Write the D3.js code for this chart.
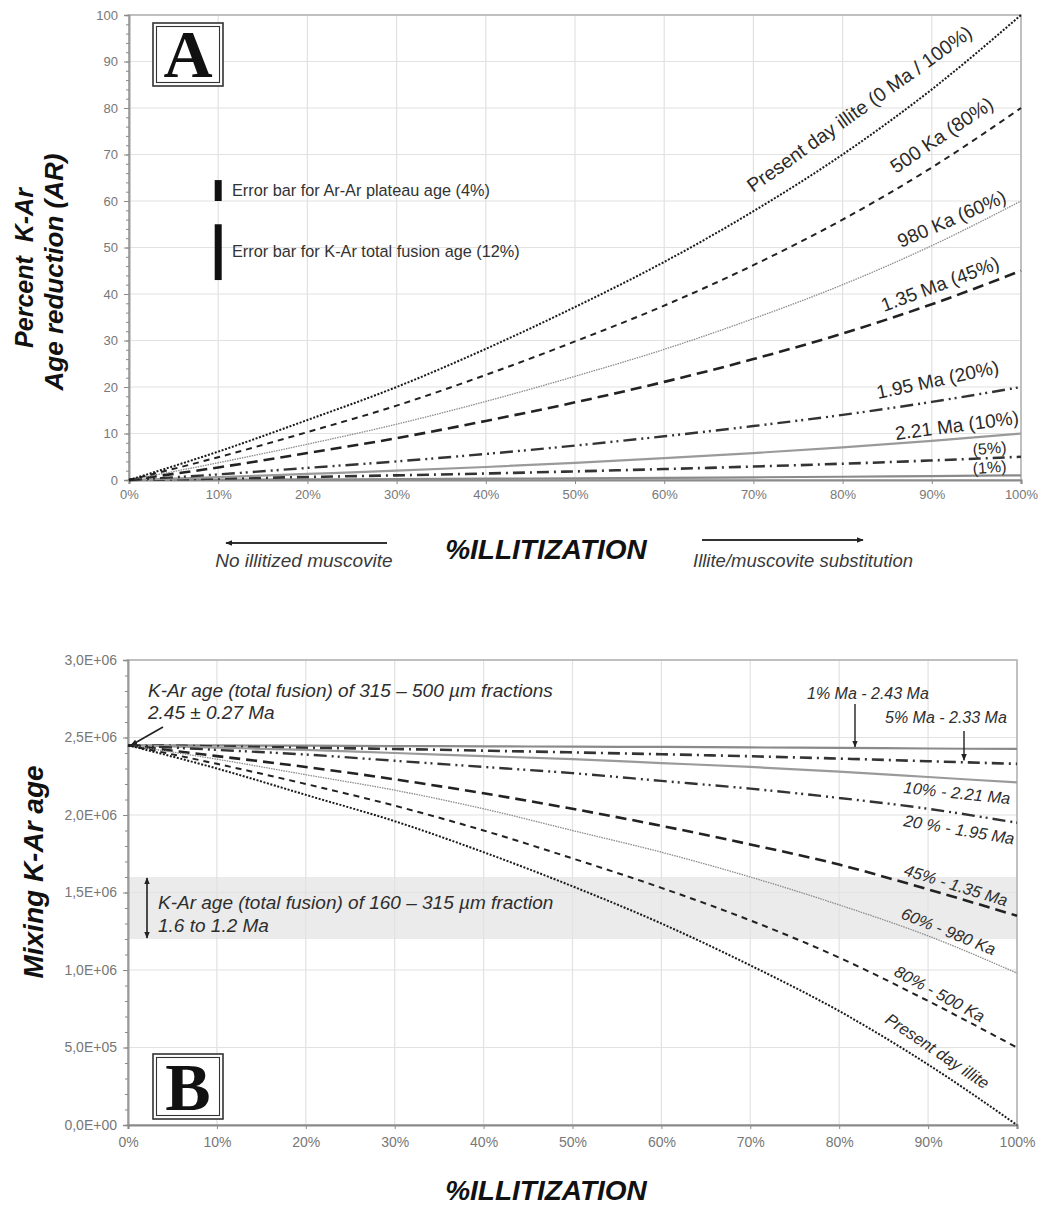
<!DOCTYPE html>
<html><head><meta charset="utf-8">
<script src="https://cdn.jsdelivr.net/npm/d3@7/dist/d3.min.js"></script>
<style>body{margin:0;background:#fff} svg{display:block;font-family:"Liberation Sans",Arial,sans-serif}</style>
</head><body>
<svg id="c" width="1043" height="1209"></svg>
<script>
// ---------------- DATA ----------------
const illitization = [0, 10, 20, 30, 40, 50, 60, 70, 80, 90, 100];
const xTickLabels = ["0%", "10%", "20%", "30%", "40%", "50%", "60%", "70%", "80%", "90%", "100%"];
const arTicks = [0, 10, 20, 30, 40, 50, 60, 70, 80, 90, 100];
const ageTicks = [0, 0.5, 1.0, 1.5, 2.0, 2.5, 3.0]; // Ma
const ageTickLabels = ["0,0E+00", "5,0E+05", "1,0E+06", "1,5E+06", "2,0E+06", "2,5E+06", "3,0E+06"];

// Panel A : percent K-Ar age reduction (AR)
const arPresentDay = [0, 6.1, 12.9, 20.0, 28.2, 37.2, 46.9, 57.8, 70.0, 84.0, 100];
const arKa500      = [0, 4.9, 10.3, 16.0, 22.6, 29.8, 37.5, 46.2, 56.0, 67.2, 80];
const arKa980      = [0, 3.7, 7.7, 12.0, 16.9, 22.3, 28.1, 34.7, 42.0, 50.4, 60];
const arMa135      = [0, 2.7, 5.8, 9.0, 12.7, 16.7, 21.1, 26.0, 31.5, 37.8, 45];
const arMa195      = [0, 1.2, 2.6, 4.0, 5.6, 7.4, 9.4, 11.6, 14.0, 16.8, 20];
const arMa221      = [0, 0.6, 1.3, 2.0, 2.8, 3.7, 4.7, 5.8, 7.0, 8.4, 10];
const arPct5       = [0, 0.3, 0.65, 1.0, 1.4, 1.85, 2.35, 2.9, 3.5, 4.2, 5];
const arPct1       = [0, 0.06, 0.13, 0.2, 0.28, 0.37, 0.47, 0.58, 0.7, 0.84, 1];
const errorBarLow  = [60, 43];
const errorBarHigh = [64.5, 55];
const errorBarX    = 10;
const errorBarLabels = ["Error bar for Ar-Ar plateau age (4%)", "Error bar for K-Ar total fusion age (12%)"];

// Panel B : mixing K-Ar age (Ma)
const agePresentDay = [2.45, 2.30, 2.13, 1.96, 1.76, 1.54, 1.30, 1.03, 0.735, 0.39, 0.0];
const ageKa500      = [2.45, 2.33, 2.20, 2.06, 1.90, 1.72, 1.53, 1.32, 1.08, 0.80, 0.50];
const ageKa980      = [2.45, 2.36, 2.26, 2.16, 2.04, 1.90, 1.76, 1.60, 1.42, 1.22, 0.98];
const ageMa135      = [2.45, 2.38, 2.31, 2.23, 2.14, 2.04, 1.93, 1.81, 1.68, 1.52, 1.35];
const ageMa195      = [2.45, 2.42, 2.39, 2.35, 2.31, 2.27, 2.22, 2.17, 2.11, 2.04, 1.95];
const ageMa221      = [2.45, 2.435, 2.42, 2.40, 2.38, 2.36, 2.335, 2.31, 2.28, 2.245, 2.21];
const agePct5       = [2.45, 2.443, 2.434, 2.426, 2.415, 2.404, 2.392, 2.379, 2.364, 2.347, 2.33];
const agePct1       = [2.45, 2.449, 2.447, 2.445, 2.443, 2.441, 2.439, 2.436, 2.433, 2.429, 2.426];
const coarseAge = 2.45;
const bandLow = 1.2, bandHigh = 1.6;

// ---------------- STYLES ----------------
const styles = {
  pct1:    {stroke: "#8a8a8a", width: 2.2, dash: null},
  pct5:    {stroke: "#333", width: 2.6, dash: "12,5,2,5"},
  ma221:   {stroke: "#9a9a9a", width: 2.2, dash: null},
  ma195:   {stroke: "#333", width: 2.4, dash: "13,5,2,4,2,5"},
  ma135:   {stroke: "#222", width: 2.6, dash: "11,6"},
  ka980:   {stroke: "#8c8c8c", width: 1.3, dash: "1.5,1"},
  ka500:   {stroke: "#222", width: 2.0, dash: "6,5"},
  present: {stroke: "#1a1a1a", width: 2.0, dash: "2,1.6"}
};
const seriesA = [["pct1", arPct1], ["pct5", arPct5], ["ma221", arMa221], ["ma195", arMa195],
                 ["ma135", arMa135], ["ka980", arKa980], ["ka500", arKa500], ["present", arPresentDay]];
const seriesB = [["pct1", agePct1], ["pct5", agePct5], ["ma221", ageMa221], ["ma195", ageMa195],
                 ["ma135", ageMa135], ["ka980", ageKa980], ["ka500", ageKa500], ["present", agePresentDay]];

const svg = d3.select("#c");
const defs = svg.append("defs");
function marker(id, orient) {
  defs.append("marker").attr("id", id).attr("viewBox", "0 0 10 10").attr("refX", 9).attr("refY", 5)
    .attr("markerWidth", 7).attr("markerHeight", 7).attr("markerUnits", "userSpaceOnUse").attr("orient", orient)
    .append("path").attr("d", "M0,1 L10,5 L0,9 Z").attr("fill", "#222");
}
marker("arr", "auto");
marker("arrS", "auto-start-reverse");

const gridColor = "#e2e2e2", frameColor = "#b4b4b4", tickColor = "#777";

function panel(cfg) {
  const g = svg.append("g");
  const x = d3.scaleLinear().domain([0, 100]).range(cfg.xr);
  const y = d3.scaleLinear().domain(cfg.yd).range(cfg.yr);
  if (cfg.band) {
    g.append("rect").attr("x", x(0)).attr("width", x(100) - x(0))
      .attr("y", y(cfg.band[1])).attr("height", y(cfg.band[0]) - y(cfg.band[1]))
      .attr("fill", "#ebebeb");
  }
  g.selectAll(".gx").data(illitization.slice(1)).join("line")
    .attr("x1", d => x(d)).attr("x2", d => x(d)).attr("y1", cfg.yr[0]).attr("y2", cfg.yr[1])
    .attr("stroke", gridColor).attr("stroke-width", 1.2);
  g.selectAll(".gy").data(cfg.ticks.slice(1)).join("line")
    .attr("x1", cfg.xr[0]).attr("x2", cfg.xr[1]).attr("y1", d => y(d)).attr("y2", d => y(d))
    .attr("stroke", gridColor).attr("stroke-width", 1.2);
  g.append("rect").attr("x", cfg.xr[0]).attr("y", cfg.yr[1]).attr("width", cfg.xr[1] - cfg.xr[0])
    .attr("height", cfg.yr[0] - cfg.yr[1]).attr("fill", "none").attr("stroke", frameColor).attr("stroke-width", 1.6);
  const yAx = g.append("g").attr("transform", `translate(${cfg.xr[0]},0)`)
    .call(d3.axisLeft(y).tickValues(cfg.ticks).tickFormat((d, i) => cfg.tickLabels[i]).tickSize(5).tickPadding(6));
  const yMinor = g.append("g").attr("transform", `translate(${cfg.xr[0]},0)`)
    .call(d3.axisLeft(y).tickValues(cfg.minor).tickFormat("").tickSize(3));
  const xAx = g.append("g").attr("transform", `translate(0,${cfg.yr[0]})`)
    .call(d3.axisBottom(x).tickValues(illitization).tickFormat((d, i) => xTickLabels[i]).tickSize(4).tickPadding(cfg.xPad));
  [yAx, yMinor, xAx].forEach(a => {
    a.select(".domain").attr("stroke", "#9a9a9a").attr("stroke-width", 1.6);
    a.selectAll(".tick line").attr("stroke", "#8a8a8a");
    a.selectAll("text").attr("fill", tickColor).style("font-size", cfg.tickFont).style("font-family", "Liberation Sans, Arial");
  });
  xAx.select(".domain").attr("stroke", "#8a8a8a").attr("stroke-width", 2.2);
  const line = d3.line().x((d, i) => x(illitization[i])).y(d => y(d)).curve(d3.curveMonotoneX);
  cfg.series.forEach(([key, vals]) => {
    const s = styles[key];
    g.append("path").attr("d", line(vals)).attr("fill", "none").attr("stroke", s.stroke)
      .attr("stroke-width", s.width).attr("stroke-dasharray", s.dash).attr("stroke-linecap", "butt");
  });
  return {g, x, y};
}

// ---------------- PANEL A ----------------
const A = panel({
  xr: [129, 1021], yr: [480, 15], yd: [0, 100], ticks: arTicks,
  tickLabels: arTicks.map(String), minor: d3.range(0, 101, 2), series: seriesA,
  tickFont: "13px", xPad: 6
});
errorBarLow.forEach((lo, i) => {
  A.g.append("line").attr("x1", A.x(errorBarX)).attr("x2", A.x(errorBarX))
    .attr("y1", A.y(lo)).attr("y2", A.y(errorBarHigh[i])).attr("stroke", "#111").attr("stroke-width", 7);
  A.g.append("text").attr("x", 232).attr("y", A.y((lo + errorBarHigh[i]) / 2) + 5)
    .attr("fill", "#333").style("font-size", "16.3px").text(errorBarLabels[i]);
});
function label(g, t, x, y, ang, size, opts = {}) {
  g.append("text").attr("transform", `translate(${x},${y}) rotate(${ang})`)
    .attr("fill", opts.fill || "#2a2a2a").style("font-size", size + "px")
    .style("font-style", opts.italic ? "italic" : "normal")
    .style("font-weight", opts.bold ? "bold" : "normal")
    .attr("text-anchor", opts.anchor || "start").text(t);
}
label(A.g, "Present day illite (0 Ma / 100%)", 753, 193, -35.5, 19.5);
label(A.g, "500 Ka (80%)", 896, 174, -34, 19.5);
label(A.g, "980 Ka (60%)", 901, 248, -23.5, 19);
label(A.g, "1.35 Ma (45%)", 884, 312, -20.5, 19);
label(A.g, "1.95 Ma (20%)", 878, 399, -12, 19);
label(A.g, "2.21 Ma (10%)", 896, 440, -7.5, 19);
label(A.g, "(5%)", 973, 455, -4, 16);
label(A.g, "(1%)", 973, 474, -4, 16);

function letterBox(x0, y0, w, h, letter, base) {
  svg.append("rect").attr("x", x0).attr("y", y0).attr("width", w).attr("height", h)
    .attr("fill", "#fff").attr("stroke", "#333").attr("stroke-width", 1.6);
  svg.append("rect").attr("x", x0 + 3.5).attr("y", y0 + 3.5).attr("width", w - 7).attr("height", h - 7)
    .attr("fill", "none").attr("stroke", "#333").attr("stroke-width", 1.1);
  svg.append("text").attr("x", x0 + w / 2).attr("y", base).attr("text-anchor", "middle")
    .style("font-family", "Liberation Serif, Times New Roman, serif").style("font-weight", "bold")
    .style("font-size", "68px").attr("fill", "#111").text(letter);
}
letterBox(153, 23, 70, 63, "A", 77);

svg.append("text").attr("transform", "translate(33,268) rotate(-90)").attr("text-anchor", "middle")
  .style("font-size", "25px").style("font-weight", "bold").style("font-style", "italic").attr("fill", "#111")
  .attr("xml:space", "preserve").text("Percent  K-Ar");
svg.append("text").attr("transform", "translate(63,272) rotate(-90)").attr("text-anchor", "middle")
  .style("font-size", "26px").style("font-weight", "bold").style("font-style", "italic").attr("fill", "#111")
  .text("Age reduction (AR)");
svg.append("text").attr("x", 546).attr("y", 559).attr("text-anchor", "middle")
  .style("font-size", "28px").style("font-weight", "bold").style("font-style", "italic").attr("fill", "#111")
  .text("%ILLITIZATION");
svg.append("line").attr("x1", 387).attr("x2", 226).attr("y1", 543).attr("y2", 543)
  .attr("stroke", "#333").attr("stroke-width", 2).attr("marker-end", "url(#arr)");
svg.append("text").attr("x", 304).attr("y", 567).attr("text-anchor", "middle").attr("fill", "#3a3a3a")
  .style("font-size", "19px").style("font-style", "italic").text("No illitized muscovite");
svg.append("line").attr("x1", 702).attr("x2", 863).attr("y1", 540).attr("y2", 540)
  .attr("stroke", "#333").attr("stroke-width", 2).attr("marker-end", "url(#arr)");
svg.append("text").attr("x", 693).attr("y", 567).attr("fill", "#3a3a3a")
  .style("font-size", "18.5px").style("font-style", "italic").text("Illite/muscovite substitution");

// ---------------- PANEL B ----------------
const B = panel({
  xr: [128, 1017], yr: [1125, 660], yd: [0, 3], ticks: ageTicks,
  tickLabels: ageTickLabels, minor: d3.range(0, 3.01, 0.1), series: seriesB,
  tickFont: "14px", xPad: 8, band: [bandLow, bandHigh]
});
B.g.append("line").attr("x1", 147).attr("x2", 147).attr("y1", B.y(bandHigh) + 1).attr("y2", B.y(bandLow) - 1)
  .attr("stroke", "#222").attr("stroke-width", 1.6)
  .attr("marker-start", "url(#arrS)").attr("marker-end", "url(#arr)");
B.g.append("line").attr("x1", 163).attr("y1", 727).attr("x2", B.x(0) + 3).attr("y2", B.y(coarseAge))
  .attr("stroke", "#222").attr("stroke-width", 1.6).attr("marker-end", "url(#arr)");
const it = {italic: true, fill: "#2e2e2e"};
label(B.g, "K-Ar age (total fusion) of 315 \u2013 500 \u00b5m fractions", 148, 697, 0, 19, it);
label(B.g, "2.45 \u00b1 0.27 Ma", 148, 719, 0, 19, it);
label(B.g, "K-Ar age (total fusion) of 160 \u2013 315 \u00b5m fraction", 158, 909, 0, 19, it);
label(B.g, "1.6 to 1.2 Ma", 158, 932, 0, 19, it);
label(B.g, "1% Ma - 2.43 Ma", 807, 699, 0, 16, it);
label(B.g, "5% Ma - 2.33 Ma", 885, 723, 0, 16, it);
B.g.append("line").attr("x1", 855).attr("x2", 855).attr("y1", 704).attr("y2", B.y(agePct1[8]) - 1)
  .attr("stroke", "#222").attr("stroke-width", 1.4).attr("marker-end", "url(#arr)");
B.g.append("line").attr("x1", 964).attr("x2", 964).attr("y1", 731).attr("y2", B.y(agePct5[9]) - 1)
  .attr("stroke", "#222").attr("stroke-width", 1.4).attr("marker-end", "url(#arr)");
label(B.g, "10% - 2.21 Ma", 903, 793, 6, 16.5, it);
label(B.g, "20 % - 1.95 Ma", 903, 826, 9.5, 16.5, it);
label(B.g, "45% - 1.35 Ma", 903, 875, 17, 16.5, it);
label(B.g, "60% - 980 Ka", 900, 918, 22, 16.5, it);
label(B.g, "80% - 500 Ka", 893, 975, 28.5, 16.5, it);
label(B.g, "Present day illite", 884, 1022, 34, 16.5, it);

letterBox(153, 1054, 70, 65, "B", 1110);

svg.append("text").attr("transform", "translate(43,872) rotate(-90)").attr("text-anchor", "middle")
  .style("font-size", "28px").style("font-weight", "bold").style("font-style", "italic").attr("fill", "#111")
  .text("Mixing K-Ar age");
svg.append("text").attr("x", 546).attr("y", 1200).attr("text-anchor", "middle")
  .style("font-size", "28px").style("font-weight", "bold").style("font-style", "italic").attr("fill", "#111")
  .text("%ILLITIZATION");
</script>
</body></html>
